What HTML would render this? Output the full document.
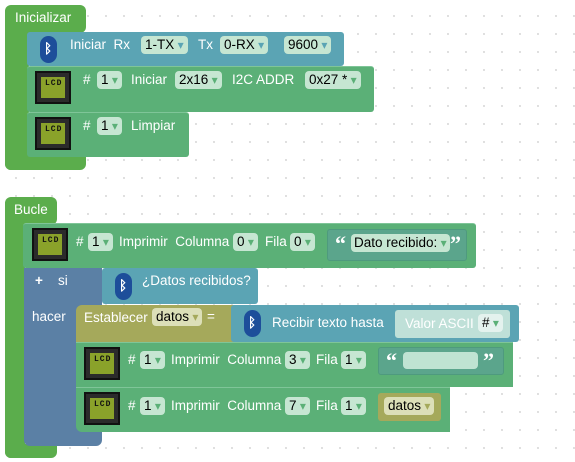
<!DOCTYPE html>
<html><head><style>
body{margin:0;width:575px;height:462px;overflow:hidden;background:#fff;font-family:"Liberation Sans",sans-serif;position:relative;
background-image:radial-gradient(#ddd 1px,transparent 1.2px);background-size:18px 18px;background-position:7px 7px}
div,span{position:absolute;box-sizing:border-box}
.t{color:#fff;font-size:13.5px;white-space:nowrap;line-height:16px}
.hat{background:#5bad4c;border-radius:6px}
.g{background:#5bb077;border-top:1px solid #7fc598;border-radius:3px}
.bt{background:#5ba4b4;border-radius:3px}
.bl{background:#5b80a5}
.ol{background:#a5a95b}
.dd{background:#c6e6d2;color:#000;border-radius:4px;font-size:13.5px;line-height:18px;height:18px;padding:0 4px;white-space:nowrap}
.dd:after{content:" ▾";color:#5bb077;font-size:12px}
.ddb:after{color:#5ba4b4}.ddo:after{color:#a5a95b}
.lcd{width:36px;height:33px;background:#2b2b2b;border:2px solid #111}
.lcd i{position:absolute;left:4px;top:4px;right:4px;bottom:4px;background:#8aa22a;font:bold 8px "Liberation Mono",monospace;color:#111;padding:2px 0 0 4px;font-style:normal;letter-spacing:1px}
.bti{width:17px;height:27px;border-radius:9px;background:#1d4e9a}
.q{color:#fff;font:bold 22px "Liberation Serif",serif;line-height:22px}
</style></head><body>
<!-- Inicializar -->
<div class="hat" style="left:5px;top:5px;width:81px;height:28px"></div>
<div class="hat" style="left:5px;top:20px;width:24px;height:150px;border-radius:6px 0 0 6px"></div>
<div class="hat" style="left:5px;top:150px;width:81px;height:20px;border-radius:0 0 6px 6px"></div>
<span class="t" style="left:15px;top:10px">Inicializar</span>
<div class="bt" style="left:27px;top:32px;width:317px;height:34px"></div>
<div class="bti" style="left:40px;top:36px"></div><span class="t" style="left:44px;top:41px;font-weight:bold">ᛒ</span>
<span class="t" style="left:70px;top:37px">Iniciar &nbsp;Rx</span>
<span class="dd ddb" style="left:141px;top:36px">1-TX</span>
<span class="t" style="left:198px;top:37px">Tx</span>
<span class="dd ddb" style="left:220px;top:36px">0-RX</span>
<span class="dd ddb" style="left:284px;top:36px">9600</span>
<div class="g" style="left:27px;top:66px;width:347px;height:46px"></div>
<div class="lcd" style="left:35px;top:71px"><i>LCD</i></div>
<span class="t" style="left:83px;top:72px"># </span><span class="dd" style="left:97px;top:71px">1</span>
<span class="t" style="left:131px;top:72px">Iniciar</span><span class="dd" style="left:175px;top:71px">2x16</span>
<span class="t" style="left:232px;top:72px">I2C ADDR</span><span class="dd" style="left:305px;top:71px">0x27 *</span>
<div class="g" style="left:27px;top:112px;width:162px;height:45px"></div>
<div class="lcd" style="left:35px;top:117px"><i>LCD</i></div>
<span class="t" style="left:83px;top:118px"># </span><span class="dd" style="left:97px;top:117px">1</span>
<span class="t" style="left:131px;top:118px">Limpiar</span>
<!-- Bucle -->
<div class="hat" style="left:5px;top:197px;width:52px;height:28px"></div>
<div class="hat" style="left:5px;top:210px;width:20px;height:248px;border-radius:6px 0 0 6px"></div>
<div class="hat" style="left:5px;top:444px;width:52px;height:14px;border-radius:0 0 6px 6px"></div>
<span class="t" style="left:14px;top:202px">Bucle</span>
<div class="g" style="left:23px;top:223px;width:453px;height:45px"></div>
<div class="lcd" style="left:32px;top:228px"><i>LCD</i></div>
<span class="t" style="left:76px;top:234px">#</span><span class="dd" style="left:88px;top:233px">1</span>
<span class="t" style="left:119px;top:234px">Imprimir &nbsp;Columna</span><span class="dd" style="left:233px;top:233px">0</span>
<span class="t" style="left:265px;top:234px">Fila</span><span class="dd" style="left:290px;top:233px">0</span>
<div style="left:327px;top:229px;width:140px;height:32px;background:#5ba58c;border:1px solid #4e9a7e;border-radius:3px"></div>
<span class="q" style="left:335px;top:233px">“</span>
<span class="dd" style="left:351px;top:234px;padding:0 3px">Dato recibido:</span>
<span class="q" style="left:450px;top:233px">”</span>
<!-- si -->
<div class="bl" style="left:24px;top:268px;width:78px;height:178px;border-radius:0 0 6px 6px"></div>
<span class="t" style="left:35px;top:273px;font-weight:bold">+</span><span class="t" style="left:58px;top:273px">si</span>
<span class="t" style="left:32px;top:309px">hacer</span>
<div class="bt" style="left:102px;top:268px;width:156px;height:36px"></div>
<div class="bti" style="left:115px;top:273px"></div><span class="t" style="left:119px;top:278px;font-weight:bold">ᛒ</span>
<span class="t" style="left:142px;top:273px">¿Datos recibidos?</span>
<div class="ol" style="left:76px;top:305px;width:160px;height:37px;border-radius:6px 0 0 0"></div>
<span class="t" style="left:84px;top:310px">Establecer</span><span class="dd ddo" style="left:152px;top:308px;background:#dcdfb8">datos</span>
<span class="t" style="left:207px;top:309px">=</span>
<div class="bt" style="left:231px;top:305px;width:288px;height:37px"></div>
<div class="bti" style="left:244px;top:310px"></div><span class="t" style="left:248px;top:315px;font-weight:bold">ᛒ</span>
<span class="t" style="left:272px;top:315px">Recibir texto hasta</span>
<div style="left:395px;top:310px;width:115px;height:28px;background:#bfe0d8;border-radius:3px"></div>
<span class="t" style="left:405px;top:316px">Valor ASCII</span><span class="dd" style="left:478px;top:314px;background:#e4f2ee">#</span>
<div class="g" style="left:76px;top:342px;width:437px;height:45px;border-radius:0"></div>
<div class="lcd" style="left:84px;top:347px"><i>LCD</i></div>
<span class="t" style="left:128px;top:352px">#</span><span class="dd" style="left:140px;top:351px">1</span>
<span class="t" style="left:171px;top:352px">Imprimir &nbsp;Columna</span><span class="dd" style="left:285px;top:351px">3</span>
<span class="t" style="left:316px;top:352px">Fila</span><span class="dd" style="left:341px;top:351px">1</span>
<div style="left:378px;top:347px;width:126px;height:28px;background:#5ba58c;border:1px solid #4e9a7e;border-radius:3px"></div>
<span class="q" style="left:386px;top:350px">“</span>
<div style="left:403px;top:352px;width:75px;height:17px;background:#bfe3d2;border-radius:4px"></div>
<span class="q" style="left:483px;top:350px">”</span>
<div class="g" style="left:76px;top:387px;width:374px;height:45px;border-radius:0 0 0 6px"></div>
<div class="lcd" style="left:84px;top:392px"><i>LCD</i></div>
<span class="t" style="left:128px;top:398px">#</span><span class="dd" style="left:140px;top:397px">1</span>
<span class="t" style="left:171px;top:398px">Imprimir &nbsp;Columna</span><span class="dd" style="left:285px;top:397px">7</span>
<span class="t" style="left:316px;top:398px">Fila</span><span class="dd" style="left:341px;top:397px">1</span>
<div class="ol" style="left:378px;top:393px;width:63px;height:28px;border-radius:3px"></div>
<span class="dd ddo" style="left:384px;top:397px;background:#dcdfb8">datos</span>
</body></html>
